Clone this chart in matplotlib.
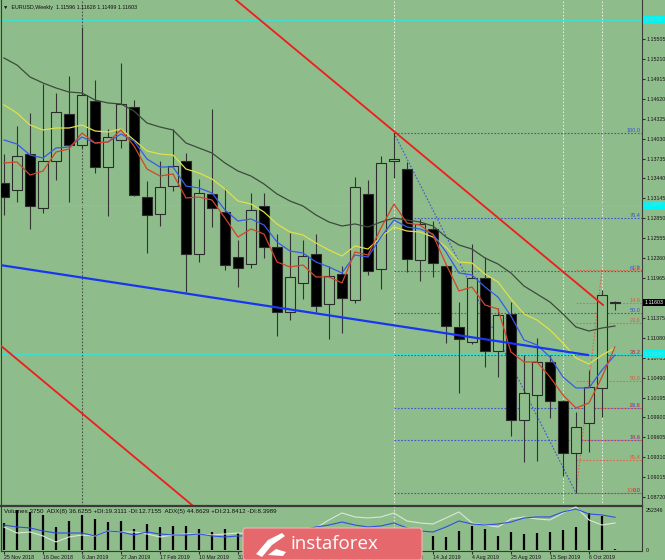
import matplotlib.pyplot as plt
from matplotlib.patches import Rectangle, FancyBboxPatch, Polygon
from matplotlib.transforms import IdentityTransform

plt.rcParams['font.family'] = ['Liberation Sans', 'DejaVu Sans']

BG = '#8fbc8b'

# EURUSD weekly candles, week of 25 Nov 2018 .. week of 20 Oct 2019
opens = [1.13373, 1.13269, 1.13802, 1.13003, 1.13699, 1.14395, 1.13936, 1.14587, 1.13610, 1.14010,
         1.14498, 1.13165, 1.12914, 1.13328, 1.13699, 1.12321, 1.13210, 1.12943, 1.12277, 1.12173,
         1.13032, 1.12425, 1.11462, 1.11892, 1.12321, 1.11581, 1.12025, 1.11640, 1.13210, 1.12099,
         1.13699, 1.13580, 1.12232, 1.12692, 1.12144, 1.11240, 1.11018, 1.11966, 1.10885, 1.11433,
         1.09863, 1.10233, 1.10722, 1.10144, 1.09374, 1.09818, 1.10337, 1.11596]
highs = [1.13800, 1.14217, 1.14409, 1.14839, 1.14706, 1.14957, 1.15683, 1.14898, 1.14173, 1.15150,
         1.14602, 1.13402, 1.13699, 1.14173, 1.13817, 1.13432, 1.14469, 1.13299, 1.12529, 1.13225,
         1.13225, 1.12617, 1.12632, 1.12529, 1.12617, 1.12144, 1.12144, 1.13462, 1.13417, 1.13773,
         1.14113, 1.13684, 1.12840, 1.12810, 1.12158, 1.11610, 1.12469, 1.12277, 1.11522, 1.11610,
         1.10825, 1.11077, 1.10825, 1.10159, 1.09981, 1.10603, 1.11790, 1.11628]
lows = [1.12900, 1.13091, 1.12692, 1.12928, 1.13417, 1.13091, 1.13890, 1.13521, 1.12884, 1.13891,
        1.13180, 1.12336, 1.12736, 1.13254, 1.11759, 1.12203, 1.12721, 1.12084, 1.11833, 1.12114,
        1.12262, 1.11107, 1.11344, 1.11655, 1.11462, 1.11062, 1.11151, 1.11596, 1.12010, 1.11803,
        1.13447, 1.12055, 1.11921, 1.11981, 1.11003, 1.10263, 1.10988, 1.10648, 1.10500, 1.09626,
        1.09241, 1.09256, 1.09892, 1.09033, 1.08782, 1.09389, 1.09907, 1.11499]
closes = [1.13165, 1.13773, 1.13032, 1.13699, 1.14424, 1.13936, 1.14676, 1.13610, 1.14054, 1.14543,
          1.13195, 1.12899, 1.13314, 1.13625, 1.12321, 1.13225, 1.13003, 1.12158, 1.12114, 1.12973,
          1.12425, 1.11462, 1.11981, 1.12292, 1.11551, 1.11995, 1.11670, 1.13314, 1.12070, 1.13669,
          1.13728, 1.12247, 1.12766, 1.12188, 1.11255, 1.11062, 1.11966, 1.10885, 1.11418, 1.09863,
          1.10263, 1.10722, 1.10144, 1.09374, 1.09759, 1.10352, 1.11714, 1.11603]

# moving averages on the price chart
ma_gray = [1.15224, 1.15120, 1.14943, 1.14854, 1.14780, 1.14720, 1.14706, 1.14602, 1.14558, 1.14543,
           1.14439, 1.14261, 1.14202, 1.14158, 1.13965, 1.13891, 1.13817, 1.13669, 1.13550, 1.13476,
           1.13358, 1.13210, 1.13106, 1.13032, 1.12899, 1.12795, 1.12736, 1.12766, 1.12721, 1.12795,
           1.12854, 1.12825, 1.12795, 1.12736, 1.12573, 1.12455, 1.12395, 1.12262, 1.12173, 1.12040,
           1.11847, 1.11729, 1.11610, 1.11433, 1.11240, 1.11181, 1.11225, 1.11255]
ma_yellow = [1.14528, 1.14409, 1.14232, 1.14158, 1.14187, 1.14187, 1.14232, 1.14143, 1.14128, 1.14173,
             1.14010, 1.13847, 1.13802, 1.13787, 1.13580, 1.13521, 1.13432, 1.13284, 1.13106, 1.13062,
             1.12943, 1.12766, 1.12647, 1.12603, 1.12484, 1.12380, 1.12292, 1.12440, 1.12395, 1.12573,
             1.12721, 1.12662, 1.12647, 1.12573, 1.12425, 1.12203, 1.12188, 1.12025, 1.11907, 1.11655,
             1.11433, 1.11344, 1.11196, 1.11003, 1.10781, 1.10692, 1.10825, 1.10929]
ma_blue = [1.14010, 1.13950, 1.13787, 1.13743, 1.13891, 1.13906, 1.14054, 1.13965, 1.13980, 1.14098,
           1.13995, 1.13728, 1.13610, 1.13610, 1.13328, 1.13299, 1.13225, 1.12973, 1.12810, 1.12840,
           1.12751, 1.12499, 1.12366, 1.12336, 1.12203, 1.12129, 1.12040, 1.12306, 1.12277, 1.12573,
           1.12825, 1.12721, 1.12692, 1.12617, 1.12351, 1.12040, 1.12010, 1.11833, 1.11684, 1.11403,
           1.11048, 1.10974, 1.10796, 1.10500, 1.10337, 1.10337, 1.10603, 1.10825]
ma_red = [1.13669, 1.13684, 1.13491, 1.13550, 1.13832, 1.13876, 1.14113, 1.13965, 1.13980, 1.14158,
          1.13921, 1.13580, 1.13476, 1.13506, 1.13151, 1.13165, 1.13121, 1.12854, 1.12573, 1.12692,
          1.12617, 1.12203, 1.12129, 1.12158, 1.11981, 1.11981, 1.11892, 1.12351, 1.12306, 1.12706,
          1.13062, 1.12780, 1.12751, 1.12603, 1.12173, 1.11773, 1.11833, 1.11566, 1.11507, 1.10870,
          1.10722, 1.10722, 1.10500, 1.10233, 1.10041, 1.10115, 1.10500, 1.10944]

# lower panel
volumes = [170000, 252346, 239700, 220800, 145100, 183000, 220800, 195600, 176700, 183000,
           132500, 164000, 145100, 151400, 151400, 132500, 113600, 132500, 107300, 110000,
           120000, 118000, 105000, 98000, 115000, 95000, 122000, 112000, 120000, 108000,
           100000, 92000, 96000, 88300, 82000, 119900, 151400, 132500, 88300, 113600,
           100900, 107300, 113600, 126200, 145100, 233400, 215000, 3750]
adx_blue = [33.6, 30.7, 29.3, 24.9, 21.9, 21.9, 21.9, 17.6, 24.9, 23.4,
            19.0, 23.4, 20.5, 19.0, 19.0, 20.5, 17.6, 16.1, 17.6, 17.6,
            19.0, 21.9, 23.4, 26.3, 30.7, 33.6, 38.0, 33.6, 30.7, 32.2,
            36.6, 29.3, 24.9, 23.4, 30.7, 39.5, 35.1, 33.6, 35.1, 38.0,
            43.9, 45.4, 45.4, 52.7, 57.1, 49.7, 48.3, 44.9]
adx_white = [30.7, 21.9, 23.4, 17.6, 8.8, 16.1, 19.0, 17.6, 24.9, 23.4,
             23.4, 20.5, 16.1, 19.0, 20.5, 20.5, 19.0, 20.5, 21.9, 20.5,
             19.0, 20.5, 21.9, 23.4, 29.3, 41.0, 51.2, 45.4, 43.9, 45.4,
             51.2, 39.5, 36.6, 35.1, 43.9, 52.7, 36.6, 33.6, 30.7, 42.4,
             45.4, 42.4, 41.0, 51.2, 60.0, 41.0, 33.6, 36.6]

date_idx = list(range(0, 48, 3))
date_labels = ['25 Nov 2018', '16 Dec 2018', '6 Jan 2019', '27 Jan 2019', '17 Feb 2019',
               '10 Mar 2019', '31 Mar 2019', '21 Apr 2019', '12 May 2019', '2 Jun 2019',
               '23 Jun 2019', '14 Jul 2019', '4 Aug 2019', '25 Aug 2019', '15 Sep 2019',
               '6 Oct 2019']

price_ticks = [1.15505, 1.15210, 1.14915, 1.14620, 1.14325, 1.14030, 1.13735, 1.13440, 1.13145,
               1.12850, 1.12555, 1.12260, 1.11965, 1.11375, 1.11080, 1.10785, 1.10490, 1.10195,
               1.09900, 1.09605, 1.09310, 1.09015, 1.08720]
cyan_levels = [1.15787, 1.13047, 1.10840]
last_price = 1.11603

# drawn objects
red_channel_top = ([17.85, 46.08], [1.16083, 1.11566])
red_channel_low = ([-0.31, 14.46], [1.10974, 1.08604])
blue_trend = ([-0.31, 44.92], [1.12158, 1.10825])
fib_blue = (30, 1.14113, 44, 1.08782)   # 100% at high, 0% at low
fib_blue_pct = [0.0, 14.6, 23.6, 38.2, 50.0, 61.8, 76.4, 100.0]
fib_red = (46, 1.12084, 44, 1.08782)    # 0% at high, 100% at low
fib_red_pct = [0.0, 14.6, 23.6, 38.2, 50.0, 61.8, 76.4, 85.4, 100.0]

XL = (-0.23, 49.08)
fig = plt.figure(figsize=(6.65, 5.6), dpi=100, facecolor=BG)
ax = fig.add_axes([1/665, 54/560, 641/665, 506/560], facecolor=BG)
axv = fig.add_axes([1/665, 9/560, 641/665, 45/560], facecolor=BG)

# separators
ax.axvline(6, color='#4a524a', lw=0.8, ls=(0, (1.5, 1.5)), zorder=1)
for v in [30, 43, 46]:
    ax.axvline(v, color='#dfe9da', lw=0.8, ls=(0, (1.5, 1.5)), zorder=1)
axv.axvline(30, color='#dfe9da', lw=0.8, ls=(0, (1.5, 1.5)), zorder=1)

for lv in cyan_levels:
    ax.axhline(lv, color='#3fe0d0', lw=0.7, zorder=1)

# fibonacci levels
bx0, bhi, _, blo = fib_blue
for pct in fib_blue_pct:
    lv = blo + pct / 100 * (bhi - blo)
    ax.hlines(lv, bx0, XL[1], color='#4056cc', lw=0.8, ls=(0, (1.5, 1.5)), zorder=2)
    ax.text(48.95, lv, f'{pct:.1f}', color='#3a4fd8', fontsize=4, ha='right', va='bottom', zorder=6)
_, rhi, rx0, rlo = fib_red
for pct in fib_red_pct:
    lv = rhi - pct / 100 * (rhi - rlo)
    ax.hlines(lv, rx0, XL[1], color='#e2654c', lw=0.8, ls=(0, (1.5, 1.5)), zorder=2)
    ax.text(48.95, lv, f'{pct:.1f}', color='#e8553a', fontsize=4, ha='right', va='bottom', zorder=6)
ax.plot([fib_blue[0], fib_blue[2]], [fib_blue[1], fib_blue[3]], color='#4056cc', lw=0.8,
        ls=(0, (1.5, 1.5)), zorder=2)
ax.plot([fib_red[2], fib_red[0]], [fib_red[3], fib_red[1]], color='#e2654c', lw=0.8,
        ls=(0, (1.5, 1.5)), zorder=2)

# candles
for i in range(len(opens)):
    o, h, l, c = opens[i], highs[i], lows[i], closes[i]
    ax.vlines(i, l, h, color='#333333', lw=0.8, zorder=3)
    bull = c >= o
    ax.add_patch(Rectangle((i - 0.35, min(o, c)), 0.7, max(abs(c - o), 0.00005),
                           facecolor=BG if bull else 'black', edgecolor='#2b2b2b',
                           lw=0.8, zorder=4))

idx = list(range(len(opens)))
ax.plot(idx, ma_gray, color='#3d4a3d', lw=0.9, zorder=5)
ax.plot(idx, ma_yellow, color='#e0e048', lw=0.9, zorder=5)
ax.plot(idx, ma_blue, color='#3a5ae8', lw=0.9, zorder=5)
ax.plot(idx, ma_red, color='#d2452a', lw=0.9, zorder=5)

ax.plot(*red_channel_top, color='#f01c1c', lw=1.3, zorder=5)
ax.plot(*red_channel_low, color='#f01c1c', lw=1.3, zorder=5)
ax.plot(*blue_trend, color='#1836f0', lw=1.6, zorder=5)

ax.set_xlim(*XL)
ax.set_ylim(1.08589, 1.16083)
ax.set_xticks([])
ax.yaxis.tick_right()
ax.set_yticks(price_ticks)
ax.set_yticklabels([f'{t:.5f}' for t in price_ticks])
ax.tick_params(axis='y', labelsize=3.8, length=2, pad=1, color='#303030', labelcolor='#151515')
for s in ax.spines.values():
    s.set_color('#3a3a3a')
    s.set_linewidth(0.8)
ax.spines['top'].set_visible(False)

ytr = ax.get_yaxis_transform()
for lv in cyan_levels:
    ax.text(1.004, lv, f'{lv:.5f}', transform=ytr, fontsize=3.8, color='#6fd8d8', va='center',
            ha='left', clip_on=False, zorder=7,
            bbox=dict(boxstyle='square,pad=0.25', fc='#00f4f4', ec='none'))
ax.text(1.004, last_price, f'{last_price:.5f}', transform=ytr, fontsize=3.8, color='white',
        va='center', ha='left', clip_on=False, zorder=7,
        bbox=dict(boxstyle='square,pad=0.25', fc='black', ec='none'))

px = IdentityTransform()
fig.text(3, 560 - 7, '\u25bc  EURUSD,Weekly  1.11596 1.11628 1.11499 1.11603', transform=px,
         fontsize=3.9, va='center', ha='left', color='#101010')

# volumes + ADX panel
axv.vlines(idx, 0, volumes, color='black', lw=1.6, zorder=3)
axv.set_ylim(-6309, 277600)
axv.set_xlim(*XL)
axa = axv.twinx()
axa.plot(idx, adx_white, color='#dbe8d4', lw=0.8)
axa.plot(idx, adx_blue, color='#3050e0', lw=0.8)
axa.set_ylim(-4.39, 61.4)
axa.set_xlim(*XL)
axa.set_axis_off()

axv.yaxis.tick_right()
axv.set_yticks([0, 252346])
axv.set_yticklabels(['0', '252346'])
axv.tick_params(axis='y', labelsize=3.8, length=0, pad=3, labelcolor='#151515')
axv.set_xticks(date_idx)
axv.set_xticklabels(date_labels, ha='left')
axv.tick_params(axis='x', labelsize=3.8, length=2, pad=1, color='#303030', labelcolor='#151515')
for s in axv.spines.values():
    s.set_color('#3a3a3a')
    s.set_linewidth(0.8)
axv.spines['top'].set_linewidth(1.6)
axv.text(0.004, 0.93, 'Volumes 3750  ADX(8) 36.6255 +DI:19.3111 -DI:12.7155  ADX(5) 44.8629 '
         '+DI:21.8412 -DI:8.3989', transform=axv.transAxes, fontsize=4.5, va='top',
         color='#101010', zorder=6)

# logo
fig.add_artist(FancyBboxPatch((243, 0), 179, 32, boxstyle='round,pad=0,rounding_size=3',
                              transform=px, fc='#e4686c', ec='#f2b4b4', lw=0.8, zorder=10))
fig.add_artist(Polygon([(256, 6), (268, 20), (282, 27), (285, 24), (272, 15), (262, 3)],
                       closed=True, transform=px, fc='white', ec='none', zorder=11))
fig.add_artist(Polygon([(268, 5), (276, 11), (286, 8), (283, 4)],
                       closed=True, transform=px, fc='white', ec='none', zorder=11))
fig.text(334, 16, 'instaforex', transform=px, fontsize=13.5, color='white', ha='center',
         va='center', family='Open Sans', zorder=12)

fig.savefig('out.png', dpi=100, facecolor=BG)
